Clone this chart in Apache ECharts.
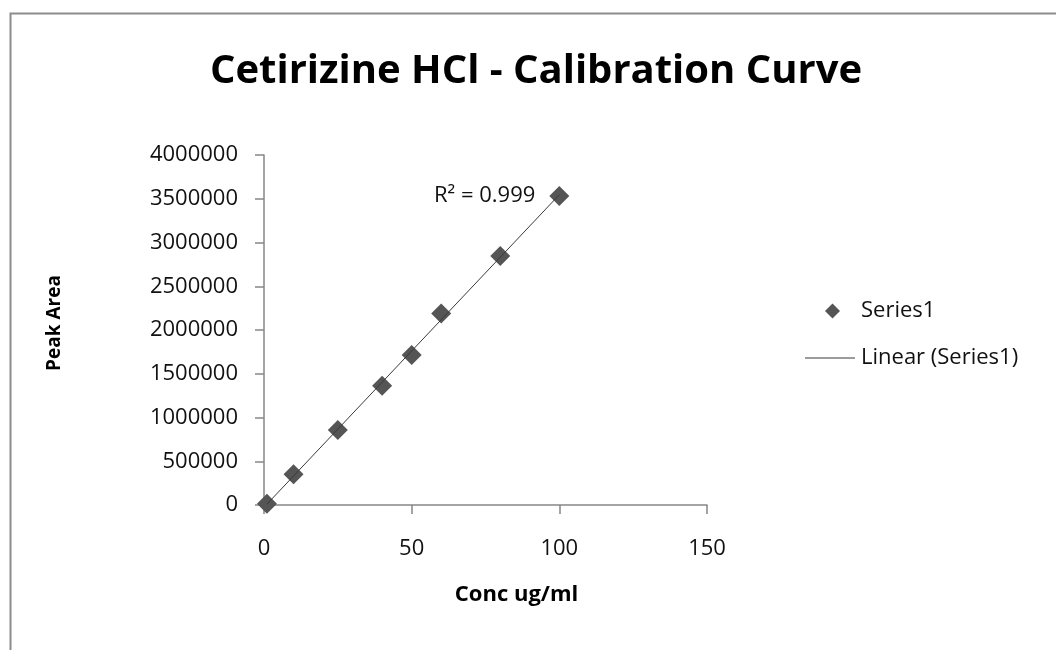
<!DOCTYPE html>
<html>
<head>
<meta charset="utf-8">
<script src="https://cdn.jsdelivr.net/npm/echarts@6/dist/echarts.min.js"></script>
<style>
  html, body { margin: 0; padding: 0; background: #fff; }
  #chart { width: 1056px; height: 650px; }
</style>
</head>
<body>
<div id="chart"></div>
<script>
// calibration points
var concValues = [1, 10, 25, 40, 50, 60, 80, 100];
var peakAreas = [15000, 351000, 857000, 1363000, 1714000, 2190000, 2846000, 3531000];
var seriesName = 'Series1';
var trendName = 'Linear (Series1)';
var r2Label = 'R² = 0.999';

(function(){

    // least squares line through the points, like the excel trendline
    function linearFit(xs, ys){
        var n = xs.length, sx = 0, sy = 0, sxx = 0, sxy = 0;
        for(var i = 0; i < n; i++){
            sx += xs[i]; sy += ys[i];
            sxx += xs[i] * xs[i]; sxy += xs[i] * ys[i];
        }
        var slope = (n * sxy - sx * sy) / (n * sxx - sx * sx);
        var intercept = (sy - slope * sx) / n;
        return {slope: slope, intercept: intercept};
    }

    var points = [];
    for(var i = 0; i < concValues.length; i++){
        points.push([concValues[i], peakAreas[i]]);
    }
    var fit = linearFit(concValues, peakAreas);
    var xMin = Math.min.apply(null, concValues);
    var xMax = Math.max.apply(null, concValues);
    var trendPoints = [
        [xMin, fit.slope * xMin + fit.intercept],
        [xMax, fit.slope * xMax + fit.intercept]
    ];

    var font = 'Open Sans';
    var axisGray = '#868686';
    var markerGray = '#555';
    var lineGray = '#3a3a3a';

    var option = {
        backgroundColor: '#fff',
        animation: false,
        title: {
            text: 'Cetirizine HCl - Calibration Curve',
            left: 205,
            top: 47,
            textStyle: {fontFamily: font, fontSize: 40, fontWeight: 'bold', color: '#000'}
        },
        graphic: [{
            type: 'rect',
            left: 8, top: 11,
            shape: {width: 1100, height: 700},
            style: {fill: 'none', stroke: '#8c8c8c', lineWidth: 2},
            silent: true
        }],
        // two legends so the diamond keeps its shape and the line gets a long icon
        legend: [
            {
                orient: 'vertical',
                left: 820,
                top: 295,
                itemWidth: 15,
                itemHeight: 15,
                textStyle: {fontFamily: font, fontSize: 22, color: '#111', padding: [0, 0, 0, 16]},
                data: [{name: seriesName, icon: 'diamond', itemStyle: {color: markerGray}}]
            },
            {
                orient: 'vertical',
                left: 800,
                top: 342,
                itemWidth: 50,
                itemHeight: 1,
                textStyle: {fontFamily: font, fontSize: 22, color: '#111', padding: [0, 0, 0, 1]},
                data: [{name: trendName, icon: 'rect', itemStyle: {color: lineGray, borderWidth: 0}}]
            }
        ],
        grid: {left: 264, right: 349, top: 155, bottom: 145},
        xAxis: {
            type: 'value',
            min: 0, max: 150, interval: 50,
            name: 'Conc ug/ml',
            nameLocation: 'middle',
            nameGap: 79,
            nameTextStyle: {fontFamily: font, fontSize: 22, fontWeight: 'bold', color: '#000', padding: [0, 0, 0, 62]},
            axisLine: {lineStyle: {color: axisGray, width: 1.5}},
            axisTick: {show: true, length: 9, lineStyle: {color: axisGray, width: 1.5}},
            axisLabel: {fontFamily: font, fontSize: 22, color: '#111', margin: 33},
            splitLine: {show: false}
        },
        yAxis: {
            type: 'value',
            min: 0, max: 4000000, interval: 500000,
            name: 'Peak Area',
            nameLocation: 'middle',
            nameGap: 200,
            nameRotate: 90,
            nameTextStyle: {fontFamily: font, fontSize: 19, fontWeight: 'bold', color: '#000', padding: [0, 0, 0, 14]},
            axisLine: {show: true, lineStyle: {color: axisGray, width: 1.5}},
            axisTick: {show: true, length: 9, lineStyle: {color: axisGray, width: 1.5}},
            axisLabel: {
                fontFamily: font, fontSize: 22, color: '#111', margin: 26,
                formatter: function(v){ return String(v); }
            },
            splitLine: {show: false}
        },
        series: [
            {
                name: trendName,
                type: 'line',
                data: trendPoints,
                showSymbol: false,
                symbol: 'none',
                lineStyle: {color: lineGray, width: 1},
                itemStyle: {color: lineGray},
                z: 3,
                markPoint: {
                    symbol: 'circle',
                    symbolSize: 0,
                    data: [{coord: trendPoints[1]}],
                    label: {
                        show: true,
                        position: 'left',
                        distance: 24,
                        offset: [0, 1],
                        formatter: r2Label,
                        fontFamily: font,
                        fontSize: 22,
                        color: '#111'
                    }
                }
            },
            {
                name: seriesName,
                type: 'scatter',
                data: points,
                symbol: 'diamond',
                symbolSize: 20,
                itemStyle: {color: markerGray, opacity: 1},
                z: 2
            }
        ]
    };

    var chart = echarts.init(document.getElementById('chart'), null, {renderer: 'canvas'});
    chart.setOption(option);
})();
</script>
</body>
</html>
